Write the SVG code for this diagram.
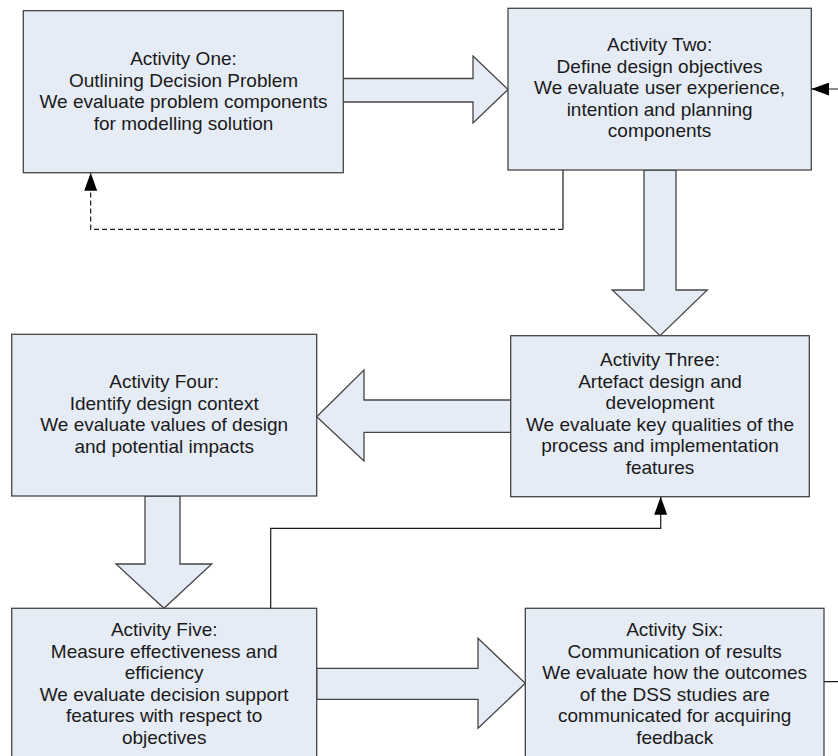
<svg xmlns="http://www.w3.org/2000/svg" width="838" height="756" viewBox="0 0 838 756">
<style>
.box{fill:#e6ecf6;stroke:#454545;stroke-width:1.3}
.blk{fill:#e6ecf6;stroke:#454545;stroke-width:1.3;stroke-linejoin:miter}
.lbl{font-family:"Liberation Sans",Arial,sans-serif;font-size:19px;fill:#1a1a1a;text-anchor:middle}
.con{fill:none;stroke:#1a1a1a;stroke-width:1.2}
.dash{stroke-dasharray:5 3}
</style>
<defs>
<marker id="ah" markerUnits="userSpaceOnUse" markerWidth="18" markerHeight="13" refX="18" refY="6.5" orient="auto">
<path d="M0,0 L18,6.5 L0,13 Z" fill="#000"/>
</marker>
</defs>
<rect width="838" height="756" fill="#fff"/>

<g id="block-arrows">
<polygon class="blk" points="343.3,78.5 473,78.5 473,56 508,89.5 473,123 473,102 343.3,102"/>
<polygon class="blk" points="644,170 676,170 676,290 707.3,290 660,335.7 612.3,290 644,290"/>
<polygon class="blk" points="510.7,400 364,400 364,370 316.7,416.7 364,461 364,432.3 510.7,432.3"/>
<polygon class="blk" points="145,496 180,496 180,564 211.7,564 164,608.3 116,564 145,564"/>
<polygon class="blk" points="316.7,668.3 478,668.3 478,638.3 525.3,683.3 478,728.3 478,699.3 316.7,699.3"/>
</g>

<g id="activity-one">
<rect class="box" x="23.3" y="10.7" width="320" height="162"/>
<text class="lbl"><tspan x="183.5" y="65">Activity One:</tspan><tspan x="183.5" dy="21.5">Outlining Decision Problem</tspan><tspan x="183.5" dy="21.5">We evaluate problem components</tspan><tspan x="183.5" dy="21.5">for modelling solution</tspan></text>
</g>

<g id="activity-two">
<rect class="box" x="508" y="8.3" width="303.3" height="161.7"/>
<text class="lbl"><tspan x="659.6" y="51">Activity Two:</tspan><tspan x="659.6" dy="21.5">Define design objectives</tspan><tspan x="659.6" dy="21.5">We evaluate user experience,</tspan><tspan x="659.6" dy="21.5">intention and planning</tspan><tspan x="659.6" dy="21.5">components</tspan></text>
</g>

<g id="activity-three">
<rect class="box" x="510.7" y="335.7" width="298.6" height="161"/>
<text class="lbl"><tspan x="660" y="366">Activity Three:</tspan><tspan x="660" dy="21.5">Artefact design and</tspan><tspan x="660" dy="21.5">development</tspan><tspan x="660" dy="21.5">We evaluate key qualities of the</tspan><tspan x="660" dy="21.5">process and implementation</tspan><tspan x="660" dy="21.5">features</tspan></text>
</g>

<g id="activity-four">
<rect class="box" x="11.7" y="334.3" width="305" height="161.7"/>
<text class="lbl"><tspan x="164.2" y="388">Activity Four:</tspan><tspan x="164.2" dy="21.5">Identify design context</tspan><tspan x="164.2" dy="21.5">We evaluate values of design</tspan><tspan x="164.2" dy="21.5">and potential impacts</tspan></text>
</g>

<g id="activity-five">
<rect class="box" x="11.7" y="608.3" width="305" height="161"/>
<text class="lbl"><tspan x="164.2" y="636">Activity Five:</tspan><tspan x="164.2" dy="21.5">Measure effectiveness and</tspan><tspan x="164.2" dy="21.5">efficiency</tspan><tspan x="164.2" dy="21.5">We evaluate decision support</tspan><tspan x="164.2" dy="21.5">features with respect to</tspan><tspan x="164.2" dy="21.5">objectives</tspan></text>
</g>

<g id="activity-six">
<rect class="box" x="525.3" y="608.3" width="298.7" height="161"/>
<text class="lbl"><tspan x="674.7" y="636">Activity Six:</tspan><tspan x="674.7" dy="21.5">Communication of results</tspan><tspan x="674.7" dy="21.5">We evaluate how the outcomes</tspan><tspan x="674.7" dy="21.5">of the DSS studies are</tspan><tspan x="674.7" dy="21.5">communicated for acquiring</tspan><tspan x="674.7" dy="21.5">feedback</tspan></text>
</g>

<g id="connectors">
<path class="con" d="M563,170 V229.3"/>
<path class="con dash" d="M563,229.3 H90.7 V172.7" marker-end="url(#ah)"/>
<path class="con" d="M270.7,608.3 V528.3 H660.7 V496.7" marker-end="url(#ah)"/>
<path class="con" d="M824,681.7 H850 V89 H811.3" marker-end="url(#ah)"/>
</g>
</svg>
